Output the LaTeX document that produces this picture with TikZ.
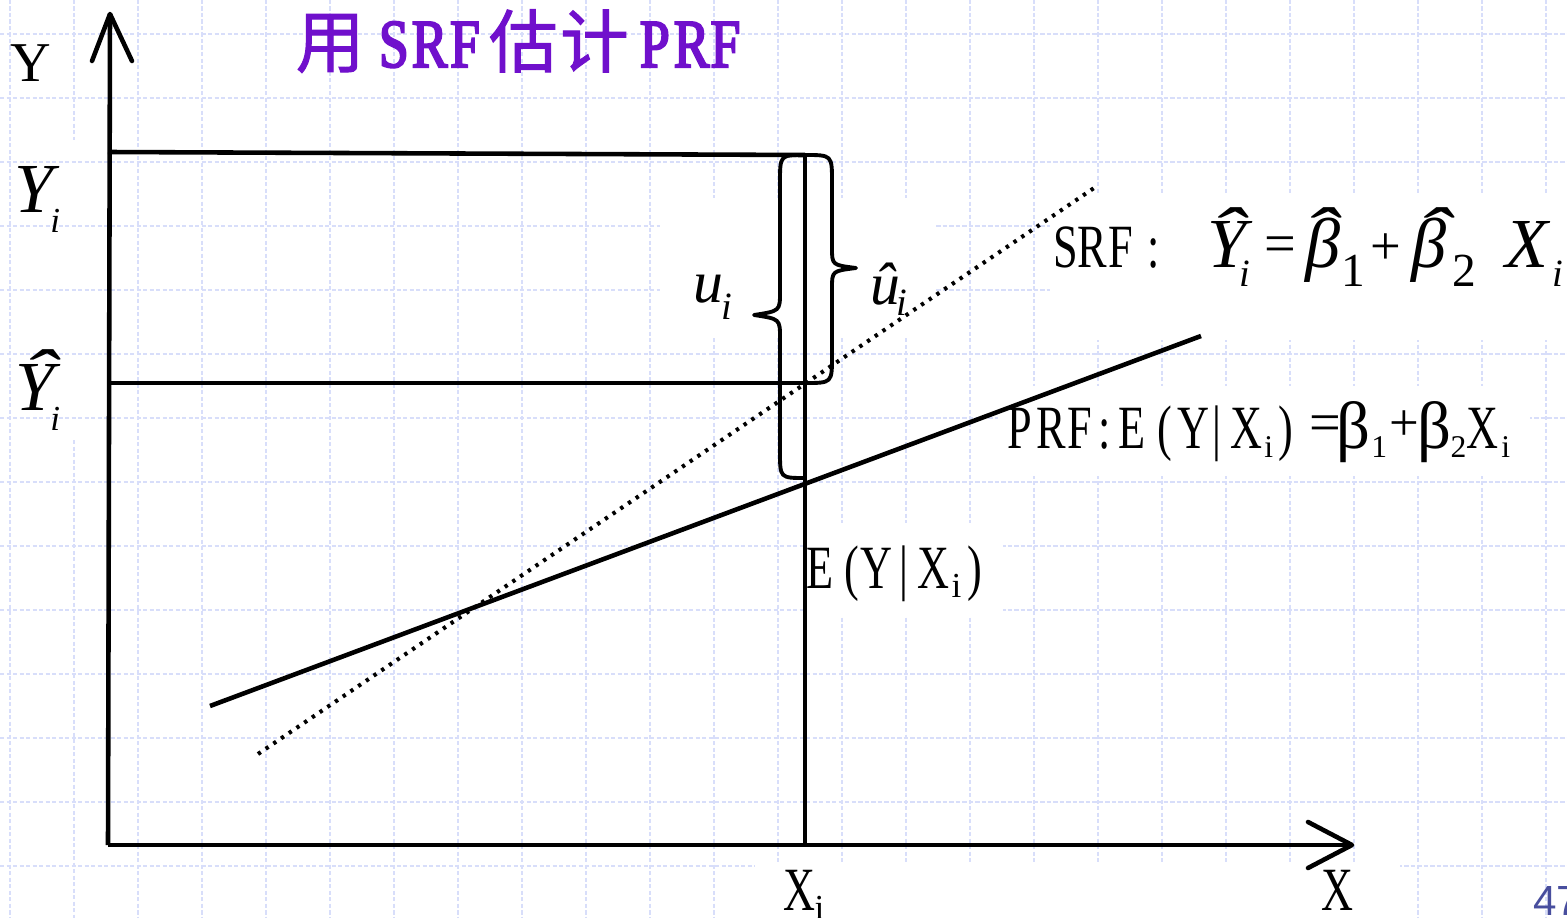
\documentclass[tikz,border=0pt]{standalone}
\usepackage{fontspec}
\usepackage{graphicx}
\setmainfont{Liberation Serif}
\newfontfamily\cond[FakeStretch=0.72]{Liberation Serif}
\newfontfamily\titlelat[FakeStretch=0.78,FakeBold=3]{Liberation Serif}
\newfontfamily\cjk[FakeBold=1.5]{Noto Sans CJK SC}
\newfontfamily\pagefont{Liberation Sans}
\definecolor{gridc}{RGB}{216,222,250}
\definecolor{titlec}{RGB}{112,16,204}
\definecolor{pagec}{RGB}{72,78,158}
\newdimen\pxu \pxu=0.56693pt
\newcommand\ch[3][0]{\rlap{\kern#2\pxu\raisebox{#1\pxu}{\makebox[0pt][c]{#3}}}}
\newcommand\cf{\cond\upshape\fontsize{35pt}{35pt}\selectfont}
\newcommand\rf[1]{\rmfamily\upshape\fontsize{#1}{#1}\selectfont}
\newcommand\itf[1]{\rmfamily\itshape\fontsize{#1}{#1}\selectfont}
\newcommand\hatg{\scalebox{1.5}[1]{\itf{40pt}\char"02C6}}
\newcommand\tl{\titlelat\fontsize{39pt}{39pt}\selectfont}
\newcommand\tc{\cjk\fontsize{39pt}{39pt}\selectfont}
\begin{document}
\begin{tikzpicture}[x=0.02cm,y=-0.02cm,
  gridln/.style={gridc, line width=0.7pt, dash pattern=on 2.5pt off 1.2pt},
  ln/.style={line width=2.6pt},
  arrowln/.style={line width=2.6pt, line cap=round, line join=round},
  dotln/.style={line width=2.3pt, dash pattern=on 1.9pt off 3.4pt},
  brc/.style={line width=2.2pt, line join=round},
  lab/.style={inner sep=0pt, anchor=base west}]
\useasboundingbox (0,0) rectangle (1567,918);
\fill[white] (0,0) rectangle (1567,918);
% background grid
\foreach \k in {0,2,3,...,24} \draw[gridln] ({10+64*\k},0) -- ({10+64*\k},918);
\draw[gridln] (74,0) -- (74,140);
\draw[gridln] (74,440) -- (74,918);
\foreach \k in {0,...,13} \draw[gridln] (0,{34+64*\k}) -- (1567,{34+64*\k});
% white text boxes hiding the grid
\fill[white] (1050,195) rectangle (1567,340);
\fill[white] (998,386) rectangle (1530,476);
\fill[white] (807,523) rectangle (1003,615);
\fill[white] (755,862) rectangle (1400,918);
\fill[white] (660,198) rectangle (935,337);
% key points
\coordinate (O) at (108,845);
\coordinate (ytip) at (110,14);
\coordinate (yb1) at (92,61);
\coordinate (yb2) at (132,61);
\coordinate (xtip) at (1352,845);
\coordinate (xb1) at (1308,822);
\coordinate (xb2) at (1308,868);
\coordinate (yi) at (108,152);
\coordinate (yhat) at (108,383);
\coordinate (P) at (805,155);
\coordinate (Q) at (805,383);
\coordinate (ub) at (805,478);
\coordinate (Xi) at (805,845);
\coordinate (prfA) at (210,706);
\coordinate (prfB) at (1201,336);
\coordinate (srfA) at (258,754);
\coordinate (srfB) at (1097,186);
% axes
\draw[ln] (O) -- (ytip);
\draw[arrowln] (yb1) -- (ytip) -- (yb2);
\draw[ln] (O) -- (xtip);
\draw[arrowln] (xb1) -- (xtip) -- (xb2);
% guide lines
\draw[ln] (yi) -- (P);
\draw[ln] (yhat) -- (Q);
\draw[ln] (P) -- (Xi);
% regression lines
\draw[ln] (prfA) -- (prfB);
\draw[dotln] (srfA) -- (srfB);
% braces
\draw[brc] (P) .. controls (832,155) .. (832,182) -- (832,248) .. controls (832,265) .. (856,268) .. controls (832,271) .. (832,288) -- (832,356) .. controls (832,383) .. (Q);
\draw[brc] (P) .. controls (780,155) .. (780,182) -- (780,292) .. controls (780,311) .. (754,315) .. controls (780,319) .. (780,338) -- (780,452) .. controls (780,478) .. (ub);
% labels
\node[lab, text=titlec] (title) at (290,67) {\ch{39}{\tc 用}\ch{103}{\tl S}\ch{139}{\tl R}\ch{174.5}{\tl F}\ch{233}{\tc 估}\ch{304.5}{\tc 计}\ch{365}{\tl P}\ch{402}{\tl R}\ch{436}{\tl F}};
\node[lab] (ylab) at (0,82) {\ch{30}{\rf{32pt}Y}};
\node[lab] (xlab) at (1330,910) {\ch{6.5}{\cf X}};
\node[lab] (xilab) at (780,910) {\ch{18}{\cf X}\ch[-10]{38.5}{\rf{20pt}i}};
\node[lab] (yilab) at (0,213) {\ch{33}{\itf{40pt}Y}\ch[-20]{54.3}{\itf{20pt}i}};
\node[lab] (yhlab) at (0,410) {\ch[11.3]{38}{\hatg}\ch{34}{\itf{40pt}Y}\ch[-21]{54.3}{\itf{20pt}i}};
\node[lab] (ulab) at (680,303) {\ch{27.5}{\itf{34pt}u}\ch[-17]{45.5}{\itf{22pt}i}};
\node[lab] (uhlab) at (860,305) {\ch{24.5}{\itf{34pt}û}\ch[-11]{41}{\itf{22pt}i}};
\node[lab] (srflab) at (1050,268) {\ch{15}{\cf S}\ch{41.5}{\cf R}\ch{69.5}{\cf F}\ch{103}{\cf :}};
\node[lab] (srfeq) at (1200,268) {\ch{25.5}{\itf{40pt}Y}\ch[11.3]{26}{\hatg}\ch[-19]{44}{\itf{22pt}i}\ch[6]{79}{\rf{32pt}=}\ch{122}{\itf{40pt}β}\ch[11.3]{119.4}{\hatg}\ch[-19]{153}{\rf{27pt}1}\ch[4]{185.5}{\rf{31pt}+}\ch{229}{\itf{40pt}β}\ch[11.3]{232.4}{\hatg}\ch[-19]{264}{\rf{27pt}2}\ch{327}{\itf{40pt}X}\ch[-19]{358}{\itf{22pt}i}};
\node[lab] (prflab) at (1000,448) {\ch{18.5}{\cf P}\ch{50.5}{\cf R}\ch{78.5}{\cf F}\ch{103.5}{\cf :}\ch{131.5}{\cf E}\ch{164}{\cf (}\ch{193.5}{\cf Y}\ch{217}{\cf |}\ch{246.5}{\cf X}\ch[-10]{268.5}{\rf{18pt}i}\ch{286}{\cf )}\ch[7]{325.5}{\rf{32pt}=}\ch{354}{\rf{38pt}β}\ch[-10]{379.5}{\rf{18pt}1}\ch[8]{405}{\rf{30pt}+}\ch{434.5}{\rf{38pt}β}\ch[-10]{459}{\rf{18pt}2}\ch{483.5}{\cf X}\ch[-10]{506.5}{\rf{18pt}i}};
\node[lab] (eylab) at (800,588) {\ch{18.5}{\cf E}\ch{50.5}{\cf (}\ch{75.5}{\cf Y}\ch{103}{\cf |}\ch{132.5}{\cf X}\ch[-10]{156}{\rf{20pt}i}\ch{174.5}{\cf )}};
\node[lab, text=pagec] (page) at (1533,915) {\pagefont\fontsize{24pt}{24pt}\selectfont 47};
\end{tikzpicture}
\end{document}
